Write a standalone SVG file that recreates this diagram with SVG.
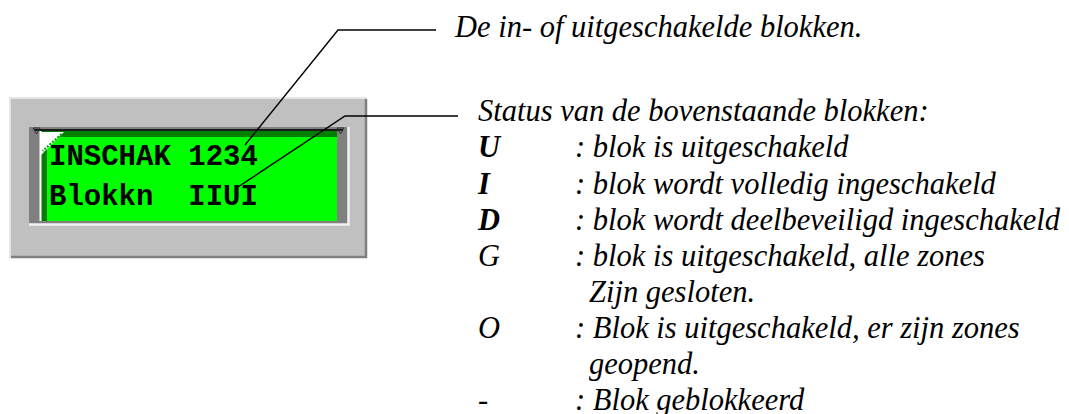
<svg xmlns="http://www.w3.org/2000/svg" width="1069" height="414" viewBox="0 0 1069 414">
<style>
  .lbl { font-family: "Liberation Serif", "Times New Roman", serif; font-style: italic; font-size: 30.5px; fill: #000; }
  .key { font-weight: bold; }
  .lcd { font-family: "Liberation Mono", "Courier New", monospace; font-weight: bold; font-size: 29px; fill: #000; }
  .lead { fill: none; stroke: #000; stroke-width: 1.4; }
</style>
<rect x="0" y="0" width="1069" height="414" fill="#fff"/>

<g id="lcd-panel">
  <!-- outer bezel -->
  <rect x="10" y="98" width="357" height="160" fill="#c0c0c0"/>
  <path d="M10 258 V98 H367" fill="none" stroke="#e4e4e4" stroke-width="2"/>
  <path d="M11 257 H366 V99" fill="none" stroke="#7f7f7f" stroke-width="2.5"/>
  <!-- recess -->
  <rect x="29" y="127" width="320" height="98" fill="#808080"/>
  <path d="M29 224.5 H348.5 V127" fill="none" stroke="#f2f2f2" stroke-width="2.5"/>
  <!-- green display -->
  <rect x="40" y="131" width="297" height="90" fill="#00ff00"/>
  <rect x="40" y="131" width="297" height="6" fill="#008000"/>
  <rect x="40" y="131" width="7" height="90" fill="#008000"/>
  <rect x="39.5" y="131" width="2" height="90" fill="#ffffff"/>
  <!-- top black line with end hooks -->
  <line x1="34" y1="130" x2="343" y2="130" stroke="#1a1a1a" stroke-width="2"/>
  <polygon points="33,128 40,128 36.5,134" fill="none" stroke="#333" stroke-width="1"/>
  <polygon points="337,128 344,128 340.5,134" fill="none" stroke="#333" stroke-width="1"/>
  <!-- corner tab -->
  <polygon points="40,132 64,132 40,156" fill="#ffffff"/>
  <line x1="61.5" y1="134" x2="42.5" y2="151" stroke="#00a000" stroke-width="2" stroke-dasharray="2,1.5"/>
  <!-- display text -->
  <text class="lcd" x="49" y="165">INSCHAK 1234</text>
  <text class="lcd" x="49" y="205" xml:space="preserve">Blokkn  IIUI</text>
</g>

<g id="label-blocks">
  <text class="lbl" x="455" y="37">De in- of uitgeschakelde blokken.</text>
</g>

<g id="label-status">
  <text class="lbl" x="478" y="121">Status van de bovenstaande blokken:</text>
  <text class="lbl key" x="478" y="157">U</text>
  <text class="lbl" x="575" y="157">: blok is uitgeschakeld</text>
  <text class="lbl key" x="478" y="194">I</text>
  <text class="lbl" x="575" y="194">: blok wordt volledig ingeschakeld</text>
  <text class="lbl key" x="478" y="230">D</text>
  <text class="lbl" x="575" y="230">: blok wordt deelbeveiligd ingeschakeld</text>
  <text class="lbl" x="478" y="266">G</text>
  <text class="lbl" x="575" y="266">: blok is uitgeschakeld, alle zones</text>
  <text class="lbl" x="589" y="302">Zijn gesloten.</text>
  <text class="lbl" x="478" y="338">O</text>
  <text class="lbl" x="575" y="338">: Blok is uitgeschakeld, er zijn zones</text>
  <text class="lbl" x="589" y="374">geopend.</text>
  <text class="lbl" x="478" y="410">-</text>
  <text class="lbl" x="575" y="410">: Blok geblokkeerd</text>
</g>

<g id="connectors">
  <polyline class="lead" points="436,30 338,30 245,145"/>
  <polyline class="lead" points="458,116 345,116 238,187"/>
</g>
</svg>
